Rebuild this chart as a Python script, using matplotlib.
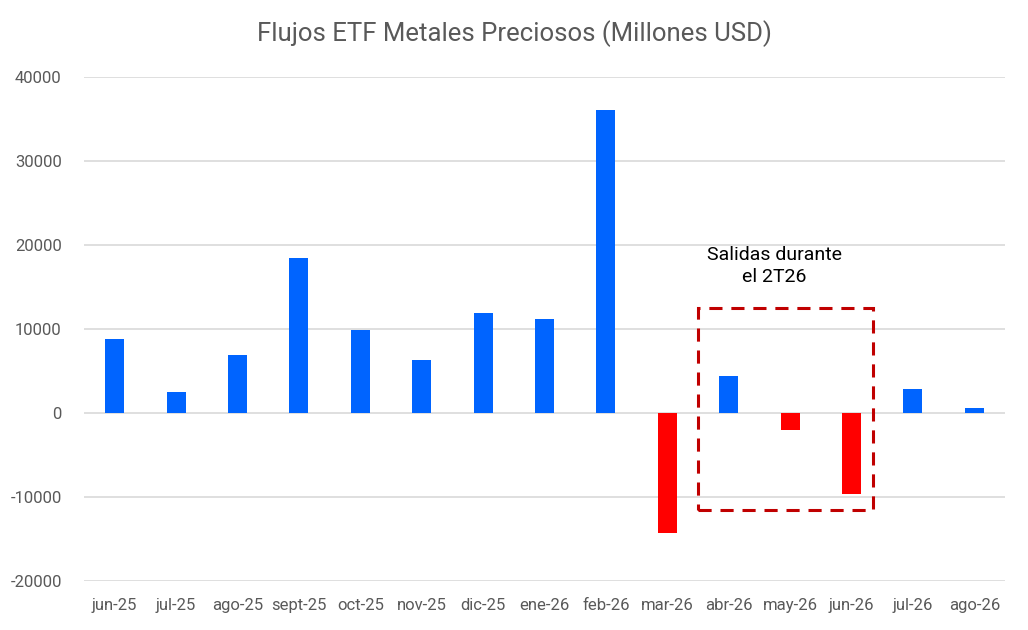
import matplotlib
matplotlib.use("Agg")
import matplotlib.pyplot as plt
from matplotlib.patches import Rectangle

plt.rcParams['font.family'] = ['Roboto', 'DejaVu Sans']

# data (millones USD)
months = ["jun-25", "jul-25", "ago-25", "sept-25", "oct-25", "nov-25", "dic-25",
          "ene-26", "feb-26", "mar-26", "abr-26", "may-26", "jun-26", "jul-26", "ago-26"]
flows = [8860, 2540, 6950, 18510, 9930, 6350, 11960,
         11130, 36100, -14330, 4460, -2080, -9700, 2900, 650]
y_ticks = [-20000, -10000, 0, 10000, 20000, 30000, 40000]

# annotation box around 2T26 (abr-26 .. jun-26)
box_first, box_last = "abr-26", "jun-26"
box_low, box_high = -11500, 12500
note = "Salidas durante\nel 2T26"

blue = "#0064FF"
red = "#FF0000"
grey_txt = "#595959"

fig = plt.figure(figsize=(10.28, 6.3), dpi=100)
ax = fig.add_axes([0.0817, 0.0778, 0.8959, 0.8])

x = list(range(len(months)))
colors = [blue if v >= 0 else red for v in flows]
ax.bar(x, flows, width=0.31, color=colors, zorder=3)

ax.set_xlim(-0.5, len(months) - 0.5)
ax.set_ylim(-20000, 40000)
ax.set_yticks(y_ticks)
ax.set_yticklabels([str(t) for t in y_ticks])
ax.set_xticks(x)
ax.set_xticklabels(months)
ax.yaxis.grid(True, color="#D9D9D9", linewidth=1.2, zorder=0)
ax.tick_params(axis="both", length=0, labelsize=12, colors=grey_txt)
ax.tick_params(axis="x", pad=12)
ax.tick_params(axis="y", pad=16)
for s in ax.spines.values():
    s.set_visible(False)

i0 = months.index(box_first)
i1 = months.index(box_last)
rect = Rectangle((i0 - 0.5, box_low), (i1 - i0) + 0.85, box_high - box_low,
                 fill=False, edgecolor="#C00000", linewidth=2.2,
                 linestyle=(0, (4.3, 2.9)), zorder=4)
ax.add_patch(rect)
ax.text(i0 + 0.75, 17500, note, ha="center", va="center",
        fontsize=14, color="black", linespacing=1.35)

fig.suptitle("Flujos ETF Metales Preciosos (Millones USD)", x=0.5, y=0.968,
             fontsize=18.5, color=grey_txt)

fig.savefig("out.png", dpi=100)
